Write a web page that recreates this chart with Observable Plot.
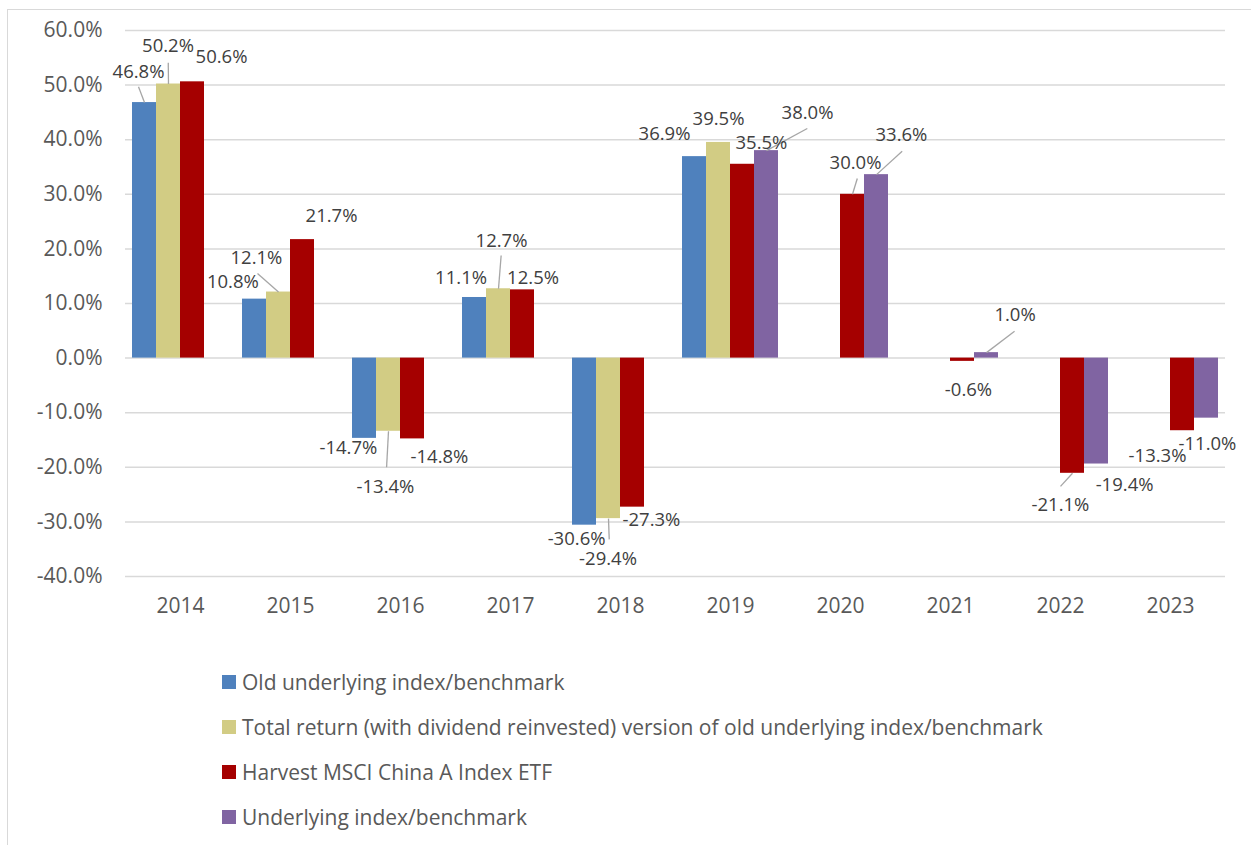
<!DOCTYPE html>
<html>
<head>
<meta charset="utf-8">
<script src="https://cdn.jsdelivr.net/npm/d3@7"></script>
<script src="https://cdn.jsdelivr.net/npm/@observablehq/plot@0.6"></script>
<style>
  html, body { margin: 0; padding: 0; background: #fff; overflow: hidden; }
  body { width: 1251px; height: 845px; position: relative; font-family: "Open Sans", sans-serif; color: #595959; }
  #frame { position: absolute; left: 7px; top: 9px; width: 1400px; height: 1000px; border-left: 1.5px solid #D9D9D9; border-top: 1.5px solid #D9D9D9; box-sizing: border-box; }
  #chart { position: absolute; left: 0; top: 0; }
  #chart svg { display: block; }
  #legend { position: absolute; left: 222px; top: 659px; }
  .row { display: flex; align-items: center; height: 45px; font-size: 21px; }
  .sw { width: 14px; height: 14px; margin-right: 6px; flex: none; }
</style>
</head>
<body>
<div id="frame"></div>
<div id="chart"></div>
<div id="legend"></div>
<script>
// ---- data ----
const years = ["2014", "2015", "2016", "2017", "2018", "2019", "2020", "2021", "2022", "2023"];
const seriesNames = [
  "Old underlying index/benchmark",
  "Total return (with dividend reinvested) version of old underlying index/benchmark",
  "Harvest MSCI China A Index ETF",
  "Underlying index/benchmark"
];
const oldIndex    = [46.8, 10.8, -14.7, 11.1, -30.6, 36.9, null, null, null, null];
const totalReturn = [50.2, 12.1, -13.4, 12.7, -29.4, 39.5, null, null, null, null];
const etf         = [50.6, 21.7, -14.8, 12.5, -27.3, 35.5, 30.0, -0.6, -21.1, -13.3];
const underlying  = [null, null, null, null, null, 38.0, 33.6, 1.0, -19.4, -11.0];
const yTicks = [-40, -30, -20, -10, 0, 10, 20, 30, 40, 50, 60];
const colors = ["#4F81BD", "#D2CC84", "#A50000", "#8064A2"];

// ---- annotation layout (label centre and leader end, in slot / percent units) ----
// [series, year, labelX, labelY, leaderX, leaderY]
const labelLayout = [
  [0, "2014", -0.25, 52.4, -0.25, 49.7],
  [1, "2014", 0.98, 57.1, 0.99, 54.1],
  [2, "2014", 3.21, 55.05],
  [0, "2015", -0.9, 13.9],
  [1, "2015", 0.08, 18.3, 0.125, 15.5],
  [2, "2015", 3.21, 26.0],
  [0, "2016", -0.67, -16.5],
  [1, "2016", 0.875, -23.7, 0.92, -20.0],
  [2, "2016", 3.125, -18.2],
  [0, "2017", -0.56, 14.6],
  [1, "2017", 1.125, 21.5, 1.11, 18.8],
  [2, "2017", 2.44, 14.6],
  [0, "2018", -0.33, -33.2],
  [1, "2018", 0.98, -36.9, 1.03, -33.2],
  [2, "2018", 2.79, -29.6],
  [0, "2019", -1.25, 41.0],
  [1, "2019", 1.0, 43.7],
  [2, "2019", 2.79, 39.3],
  [3, "2019", 4.71, 44.8, 4.7, 42.05],
  [2, "2020", 2.125, 35.7, 2.2, 32.9],
  [3, "2020", 4.04, 40.8, 4.07, 37.9],
  [2, "2021", 2.25, -5.9],
  [3, "2021", 4.19, 7.8, 4.17, 4.9],
  [2, "2022", 1.5, -27.0, 1.5, -23.5],
  [3, "2022", 4.17, -23.3],
  [2, "2023", 0.96, -18.0],
  [3, "2023", 3.04, -15.8]
];

// ---- build tables ----
const seriesValues = [oldIndex, totalReturn, etf, underlying];
const rows = [];
seriesValues.forEach((vals, s) => vals.forEach((v, i) => {
  if (v != null) rows.push({year: years[i], slot: s, series: seriesNames[s], value: v});
}));
const findValue = (s, y) => seriesValues[s][years.indexOf(y)];
const labels = labelLayout.map(([s, y, lx, ly]) => ({year: y, lx, ly, text: findValue(s, y).toFixed(1) + "%"}));
const leaders = labelLayout.filter(d => d.length > 4).map(([s, y, lx, ly, ex, ey]) => ({year: y, x1: s, y1: findValue(s, y), x2: ex, y2: ey}));

const chart = Plot.plot({
  width: 1251,
  height: 640,
  marginLeft: 125,
  marginRight: 26,
  marginTop: 30,
  marginBottom: 64,
  style: {fontFamily: "'Open Sans', sans-serif", fontSize: "21px", color: "#595959", background: "transparent"},
  fx: {domain: years, padding: 0, axis: "bottom", tickSize: 0, tickPadding: 22, label: null},
  x: {domain: [-0.7917, 3.7917], axis: null},
  y: {domain: [-40, 60], ticks: yTicks, tickFormat: d => d.toFixed(1) + "%", tickSize: 0, tickPadding: 23, label: null},
  color: {domain: seriesNames, range: colors},
  marks: [
    Plot.ruleY(yTicks, {stroke: "#D9D9D9", strokeWidth: 1.5}),
    Plot.rectY(rows, {fx: "year", x1: d => d.slot - 0.5, x2: d => d.slot + 0.5, y1: 0, y2: "value", fill: "series"}),
    Plot.link(leaders, {fx: "year", x1: "x1", y1: "y1", x2: "x2", y2: "y2", stroke: "#A6A6A6", strokeWidth: 1.3}),
    Plot.text(labels, {fx: "year", x: "lx", y: "ly", text: "text", fontSize: 18.5, fill: "#404040"})
  ]
});
document.getElementById("chart").appendChild(chart);

const legend = document.getElementById("legend");
seriesNames.forEach((name, i) => {
  const row = document.createElement("div");
  row.className = "row";
  const sw = document.createElement("span");
  sw.className = "sw";
  sw.style.background = colors[i];
  const t = document.createElement("span");
  t.textContent = name;
  row.appendChild(sw);
  row.appendChild(t);
  legend.appendChild(row);
});
</script>
</body>
</html>
